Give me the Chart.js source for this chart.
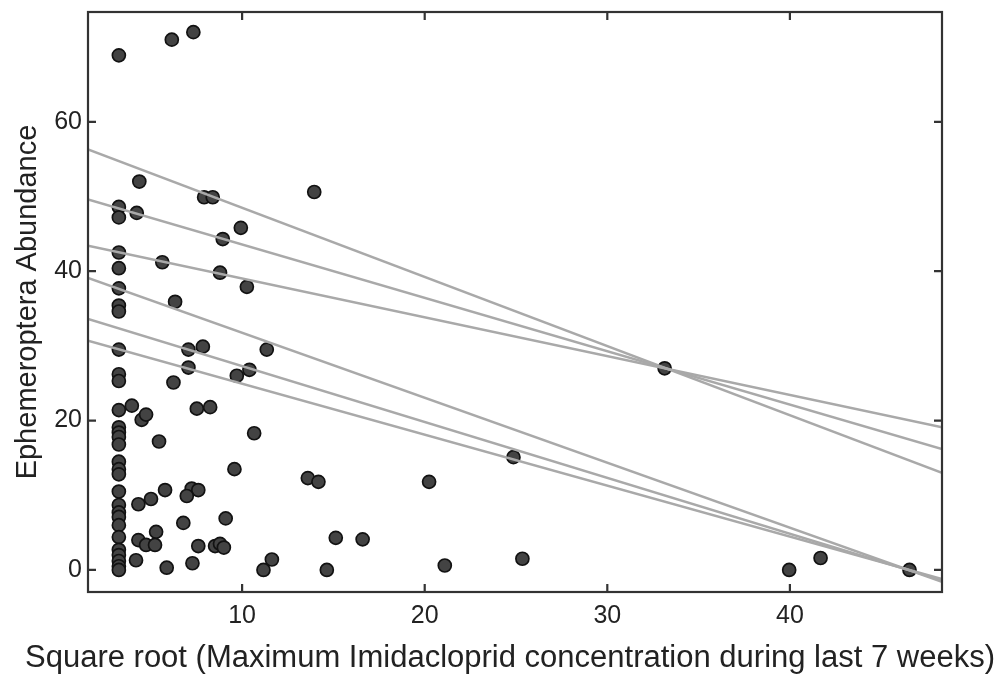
<!DOCTYPE html>
<html>
<head>
<meta charset="utf-8">
<script src="https://cdn.jsdelivr.net/npm/chart.js@4.4.0/dist/chart.umd.min.js"></script>
<style>
  html, body { margin: 0; padding: 0; background: #fff; }
  canvas { display: block; }
</style>
</head>
<body>
<canvas id="chart" width="1000" height="681"></canvas>
<script>
// Square root of max imidacloprid concentration (x) and Ephemeroptera abundance (y)
// Points sitting on the detection-limit column
const lodX = 3.25;
const lodY = [68.9, 48.6, 47.2, 42.5, 40.4, 37.7, 35.4, 34.6, 29.5, 26.2, 25.3, 21.4, 19.1, 18.4,
  17.8, 16.8, 14.5, 13.5, 12.8, 10.5, 8.7, 7.7, 7.1, 6.0, 4.4, 2.7, 2.0, 1.2, 0.5, 0];

// All the other points
const siteX = [6.15, 7.33, 4.37, 7.92, 8.39, 13.95, 4.23, 9.93, 8.94, 5.63, 8.79, 10.26, 6.33,
  7.06, 7.85, 11.35, 7.06, 9.71, 10.4, 6.24, 3.96, 4.5, 4.74, 7.52, 8.25, 10.66, 5.45, 9.58,
  13.6, 14.18, 5.78, 7.24, 7.6, 6.97, 4.32, 5.01, 9.1, 6.78, 5.29, 4.32, 4.74, 5.23, 7.6, 8.52,
  8.79, 9.0, 15.13, 16.6, 4.19, 11.63, 11.17, 5.87, 7.28, 14.64, 20.24, 21.1, 24.86, 25.35,
  33.14, 39.96, 41.68, 46.55];
const siteY = [71.0, 72.0, 52.0, 49.9, 49.9, 50.6, 47.8, 45.8, 44.3, 41.2, 39.8, 37.9, 35.9,
  29.5, 29.9, 29.5, 27.1, 26.0, 26.8, 25.1, 22.0, 20.1, 20.8, 21.6, 21.8, 18.3, 17.2, 13.5,
  12.3, 11.8, 10.7, 10.9, 10.7, 9.9, 8.8, 9.5, 6.9, 6.3, 5.1, 4.0, 3.35, 3.35, 3.2, 3.2,
  3.5, 3.0, 4.3, 4.1, 1.3, 1.4, 0, 0.3, 0.9, 0, 11.8, 0.6, 15.1, 1.5,
  27.0, 0, 1.6, 0];

// Fitted lines, value at left and right edge of the axis
const xMin = 1.56;
const xMax = 48.33;
const yMin = -2.95;
const yMax = 74.7;
const lineStart = [56.3, 49.6, 43.4, 39.1, 33.6, 30.7];
const lineEnd = [13.0, 16.2, 19.1, -1.6, -1.4, -1.2];

const xTicks = [10, 20, 30, 40];
const yTicks = [0, 20, 40, 60];
const xTitle = 'Square root (Maximum Imidacloprid concentration during last 7 weeks)';

const points = lodY.map(y => ({ x: lodX, y: y }))
  .concat(siteX.map((x, i) => ({ x: x, y: siteY[i] })));

const datasets = lineStart.map((s, i) => ({
  type: 'line',
  data: [{ x: xMin, y: s }, { x: xMax, y: lineEnd[i] }],
  borderColor: '#a9a9a9',
  borderWidth: 2.5,
  pointRadius: 0,
  fill: false,
  order: 0
}));
datasets.push({
  type: 'scatter',
  data: points,
  backgroundColor: '#434343',
  borderColor: '#121212',
  borderWidth: 1.7,
  pointRadius: 6.5,
  order: 1
});

// frame with inward ticks on all four sides, plus the wide x title
const framePlugin = {
  id: 'frame',
  afterDatasetsDraw(chart) {
    const { ctx, chartArea: a, scales } = chart;
    const len = 8;
    ctx.save();
    ctx.strokeStyle = '#333';
    ctx.lineWidth = 2.2;
    ctx.strokeRect(a.left, a.top, a.right - a.left, a.bottom - a.top);
    ctx.beginPath();
    xTicks.forEach(v => {
      const px = scales.x.getPixelForValue(v);
      ctx.moveTo(px, a.bottom); ctx.lineTo(px, a.bottom - len);
      ctx.moveTo(px, a.top); ctx.lineTo(px, a.top + len);
    });
    yTicks.forEach(v => {
      const py = scales.y.getPixelForValue(v);
      ctx.moveTo(a.left, py); ctx.lineTo(a.left + len, py);
      ctx.moveTo(a.right, py); ctx.lineTo(a.right - len, py);
    });
    ctx.stroke();

    // x axis title is wider than the plot, so draw it here
    ctx.fillStyle = '#222';
    ctx.font = '31px "Liberation Sans", Arial';
    ctx.textAlign = 'center';
    ctx.textBaseline = 'alphabetic';
    ctx.fillText(xTitle, 510, 667);
    ctx.restore();
  }
};

new Chart(document.getElementById('chart'), {
  type: 'scatter',
  data: { datasets: datasets },
  options: {
    responsive: false,
    animation: false,
    layout: { padding: { top: 12, right: 58, left: 0, bottom: 0 } },
    plugins: { legend: { display: false }, tooltip: { enabled: false } },
    scales: {
      x: {
        type: 'linear',
        min: xMin,
        max: xMax,
        grid: { display: false, drawTicks: false },
        border: { display: false },
        afterBuildTicks: s => { s.ticks = xTicks.map(v => ({ value: v })); },
        afterFit: s => { s.height = 89; s.paddingLeft = 0; s.paddingRight = 0; },
        ticks: { padding: 9, color: '#222', font: { family: 'Liberation Sans, Arial', size: 25 } }
      },
      y: {
        type: 'linear',
        min: yMin,
        max: yMax,
        grid: { display: false, drawTicks: false },
        border: { display: false },
        afterBuildTicks: s => { s.ticks = yTicks.map(v => ({ value: v })); },
        afterFit: s => { s.width = 88; s.paddingTop = 0; s.paddingBottom = 0; },
        ticks: { padding: 6, color: '#222', font: { family: 'Liberation Sans, Arial', size: 25 } },
        title: {
          display: true,
          text: 'Ephemeroptera Abundance',
          color: '#222',
          font: { family: 'Liberation Sans, Arial', size: 29 },
          padding: { top: 11, bottom: 0 }
        }
      }
    }
  },
  plugins: [framePlugin]
});
</script>
</body>
</html>
